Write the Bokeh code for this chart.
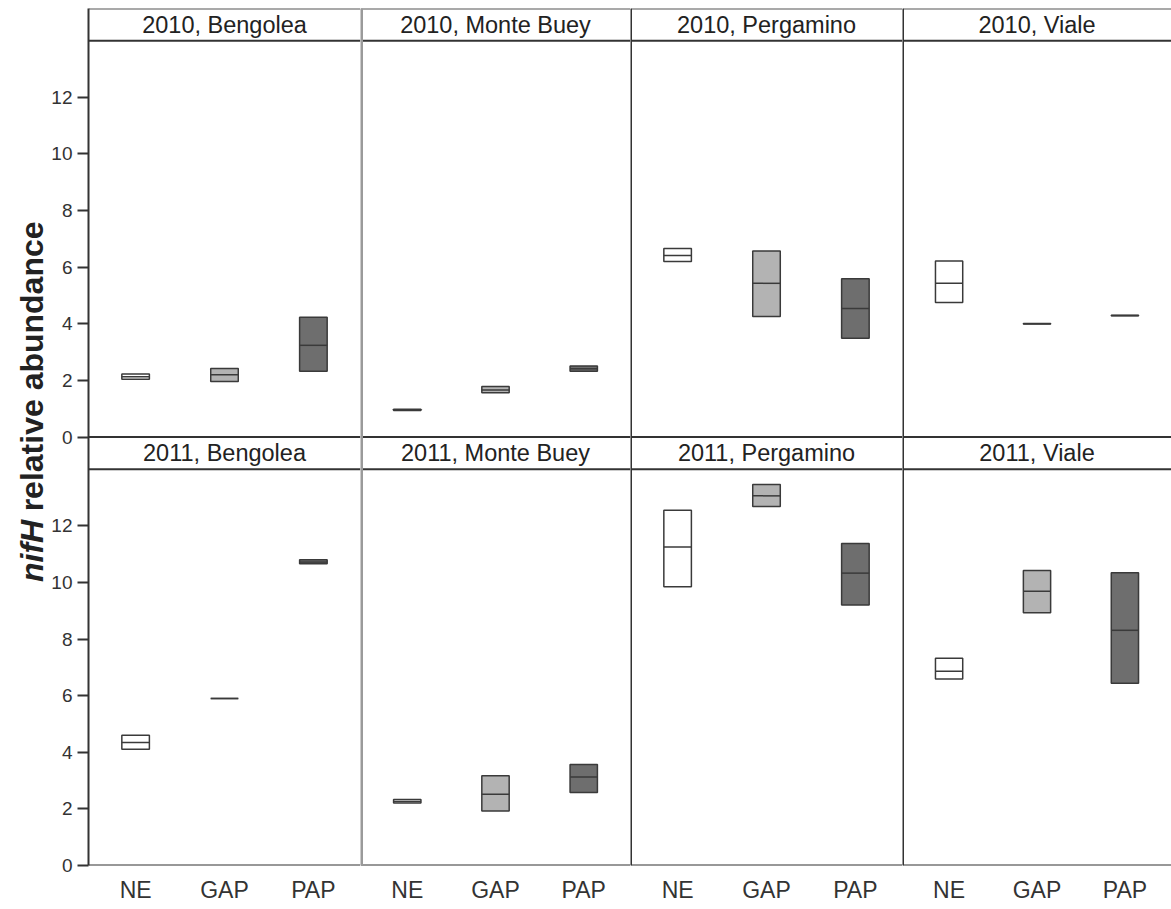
from math import pi

from bokeh.embed import file_html
from bokeh.layouts import row
from bokeh.models import (ColumnDataSource, CustomJSTickFormatter, FactorRange, FixedTicker,
                          Label, Range1d, Span)
from bokeh.plotting import figure
from bokeh.resources import INLINE
from bokeh.transform import dodge

# ---- data -----------------------------------------------------------------
YEARS = ["2010", "2011"]
SITES = ["Bengolea", "Monte Buey", "Pergamino", "Viale"]
TREATMENTS = ["NE", "GAP", "PAP"]
FILLS = ["#ffffff", "#b3b3b3", "#6e6e6e"]
Y_TICKS = [0, 2, 4, 6, 8, 10, 12]

# one row per site, one value per treatment (NE, GAP, PAP)
low_2010 = [[2.04, 1.96, 2.32], [0.94, 1.56, 2.32], [6.20, 4.26, 3.49], [4.75, 3.99, 4.28]]
mid_2010 = [[2.13, 2.20, 3.24], [0.96, 1.66, 2.41], [6.41, 5.43, 4.54], [5.43, 4.00, 4.29]]
high_2010 = [[2.23, 2.42, 4.23], [0.98, 1.78, 2.51], [6.66, 6.57, 5.59], [6.22, 4.01, 4.30]]

low_2011 = [[4.11, 5.90, 10.66], [2.21, 1.93, 2.58], [9.85, 12.68, 9.20], [6.59, 8.93, 6.44]]
mid_2011 = [[4.35, 5.90, 10.72], [2.26, 2.52, 3.13], [11.25, 13.06, 10.33], [6.86, 9.69, 8.31]]
high_2011 = [[4.60, 5.90, 10.80], [2.33, 3.17, 3.57], [12.55, 13.46, 11.38], [7.32, 10.42, 10.34]]

LOWS = [low_2010, low_2011]
MIDS = [mid_2010, mid_2011]
HIGHS = [high_2010, high_2011]

# ---- styling --------------------------------------------------------------
FONT = "Liberation Sans"
INK = "#333333"
EDGE = "#3a3a3a"
BOX_W = 0.31
X_PAD = 0.02        # FactorRange padding (fraction of the span, split over both sides)
Y_END = 15.14       # height of one facet (panel + strip) in data units
STRIP_Y = 14.0      # lower edge of a facet strip
LEFT = 40           # room for the y axis in the first column
TITLE_W = 48
PANEL_W = [272, 270, 272, 269]
HEIGHT = 905
TOP_PAD = 8
BOTTOM_PAD = 39
# left divider of each column: (colour, width); the first column uses its axis line
DIVIDERS = [None, ("#9a9a9a", 5), (INK, 3), (INK, 3)]

# each column is one figure holding both years: 2011 on the default range,
# 2010 on a range shifted up by one facet height
RANGE_NAMES = ["upper", "default"]


def site_column(si):
    first = si == 0
    p = figure(
        width=PANEL_W[si] + (LEFT if first else 0),
        height=HEIGHT,
        x_range=FactorRange(factors=TREATMENTS, range_padding=X_PAD),
        y_range=Range1d(0, 2 * Y_END),
        x_axis_location="below",
        y_axis_location="left" if first else None,
        toolbar_location=None,
        output_backend="svg",
        min_border_left=LEFT if first else 0,
        min_border_right=0,
        min_border_top=TOP_PAD,
        min_border_bottom=BOTTOM_PAD,
        outline_line_color=None,
    )
    p.extra_y_ranges = {"upper": Range1d(-Y_END, Y_END)}
    p.grid.visible = False

    for yi, rname in enumerate(RANGE_NAMES):
        src = ColumnDataSource(dict(
            treatment=TREATMENTS,
            low=LOWS[yi][si],
            mid=MIDS[yi][si],
            high=HIGHS[yi][si],
            fill=FILLS,
        ))
        p.vbar(x="treatment", bottom="low", top="high", width=BOX_W, source=src,
               fill_color="fill", line_color=EDGE, line_width=1.5, y_range_name=rname)
        p.segment(x0=dodge("treatment", -BOX_W / 2, range=p.x_range), y0="mid",
                  x1=dodge("treatment", BOX_W / 2, range=p.x_range), y1="mid",
                  source=src, line_color=EDGE, line_width=1.5, y_range_name=rname)

        # facet strip
        p.add_layout(Span(location=STRIP_Y, dimension="width", line_color=INK,
                          line_width=2, y_range_name=rname))
        p.add_layout(Label(x=len(TREATMENTS) / 2, y=(STRIP_Y + Y_END) / 2, y_range_name=rname,
                           text=f"{YEARS[yi]}, {SITES[si]}", text_align="center",
                           text_baseline="middle", text_font=FONT,
                           text_font_size="23.5px", text_color="#222222"))

    # frame lines: top, boundary between the years, bottom, left divider
    p.add_layout(Span(location=2 * Y_END, dimension="width", line_color="#555555", line_width=2))
    p.add_layout(Span(location=Y_END, dimension="width", line_color=INK, line_width=2))
    p.add_layout(Span(location=0, dimension="width", line_color=INK, line_width=2))
    if DIVIDERS[si] is not None:
        color, width = DIVIDERS[si]
        left_edge = -len(TREATMENTS) * X_PAD / 2
        p.add_layout(Span(location=left_edge, dimension="height", line_color=color,
                          line_width=width))

    ax = p.xaxis[0]
    ax.axis_line_color = None
    ax.major_tick_line_color = None
    ax.major_tick_out = 0
    ax.major_tick_in = 0
    ax.major_label_standoff = 11
    ax.major_label_text_font = FONT
    ax.major_label_text_font_size = "23px"
    ax.major_label_text_color = INK

    if first:
        ax = p.yaxis[0]
        ax.ticker = FixedTicker(ticks=Y_TICKS + [Y_END + t for t in Y_TICKS])
        ax.formatter = CustomJSTickFormatter(
            args=dict(shift=Y_END),
            code="const v = tick >= shift - 1e-6 ? tick - shift : tick; return v.toFixed(0);",
        )
        ax.axis_line_color = INK
        ax.axis_line_width = 2
        ax.major_tick_line_color = INK
        ax.major_tick_line_width = 2
        ax.major_tick_out = 11
        ax.major_tick_in = 0
        ax.minor_tick_out = 0
        ax.minor_tick_in = 0
        ax.major_label_standoff = 5
        ax.major_label_text_font = FONT
        ax.major_label_text_font_size = "19px"
        ax.major_label_text_color = INK
    return p


# y axis title: italic gene name followed by plain words
title = figure(width=TITLE_W, height=HEIGHT, x_range=Range1d(0, TITLE_W),
               y_range=Range1d(0, HEIGHT), x_axis_location=None, y_axis_location=None,
               toolbar_location=None, output_backend="svg", min_border=0,
               outline_line_color=None)
title.grid.visible = False
title_common = dict(x=31, angle=pi / 2, text_baseline="middle", text_font=FONT,
                    text_font_size="32px", text_color="#222222")
title.add_layout(Label(y=HEIGHT - 540, text="nifH", text_align="right",
                       text_font_style="bold italic", **title_common))
title.add_layout(Label(y=HEIGHT - 531, text="relative abundance", text_align="left",
                       text_font_style="bold", **title_common))

page = row([title] + [site_column(si) for si in range(len(SITES))], spacing=0)

open("out.html", "w").write(file_html(page, INLINE))
